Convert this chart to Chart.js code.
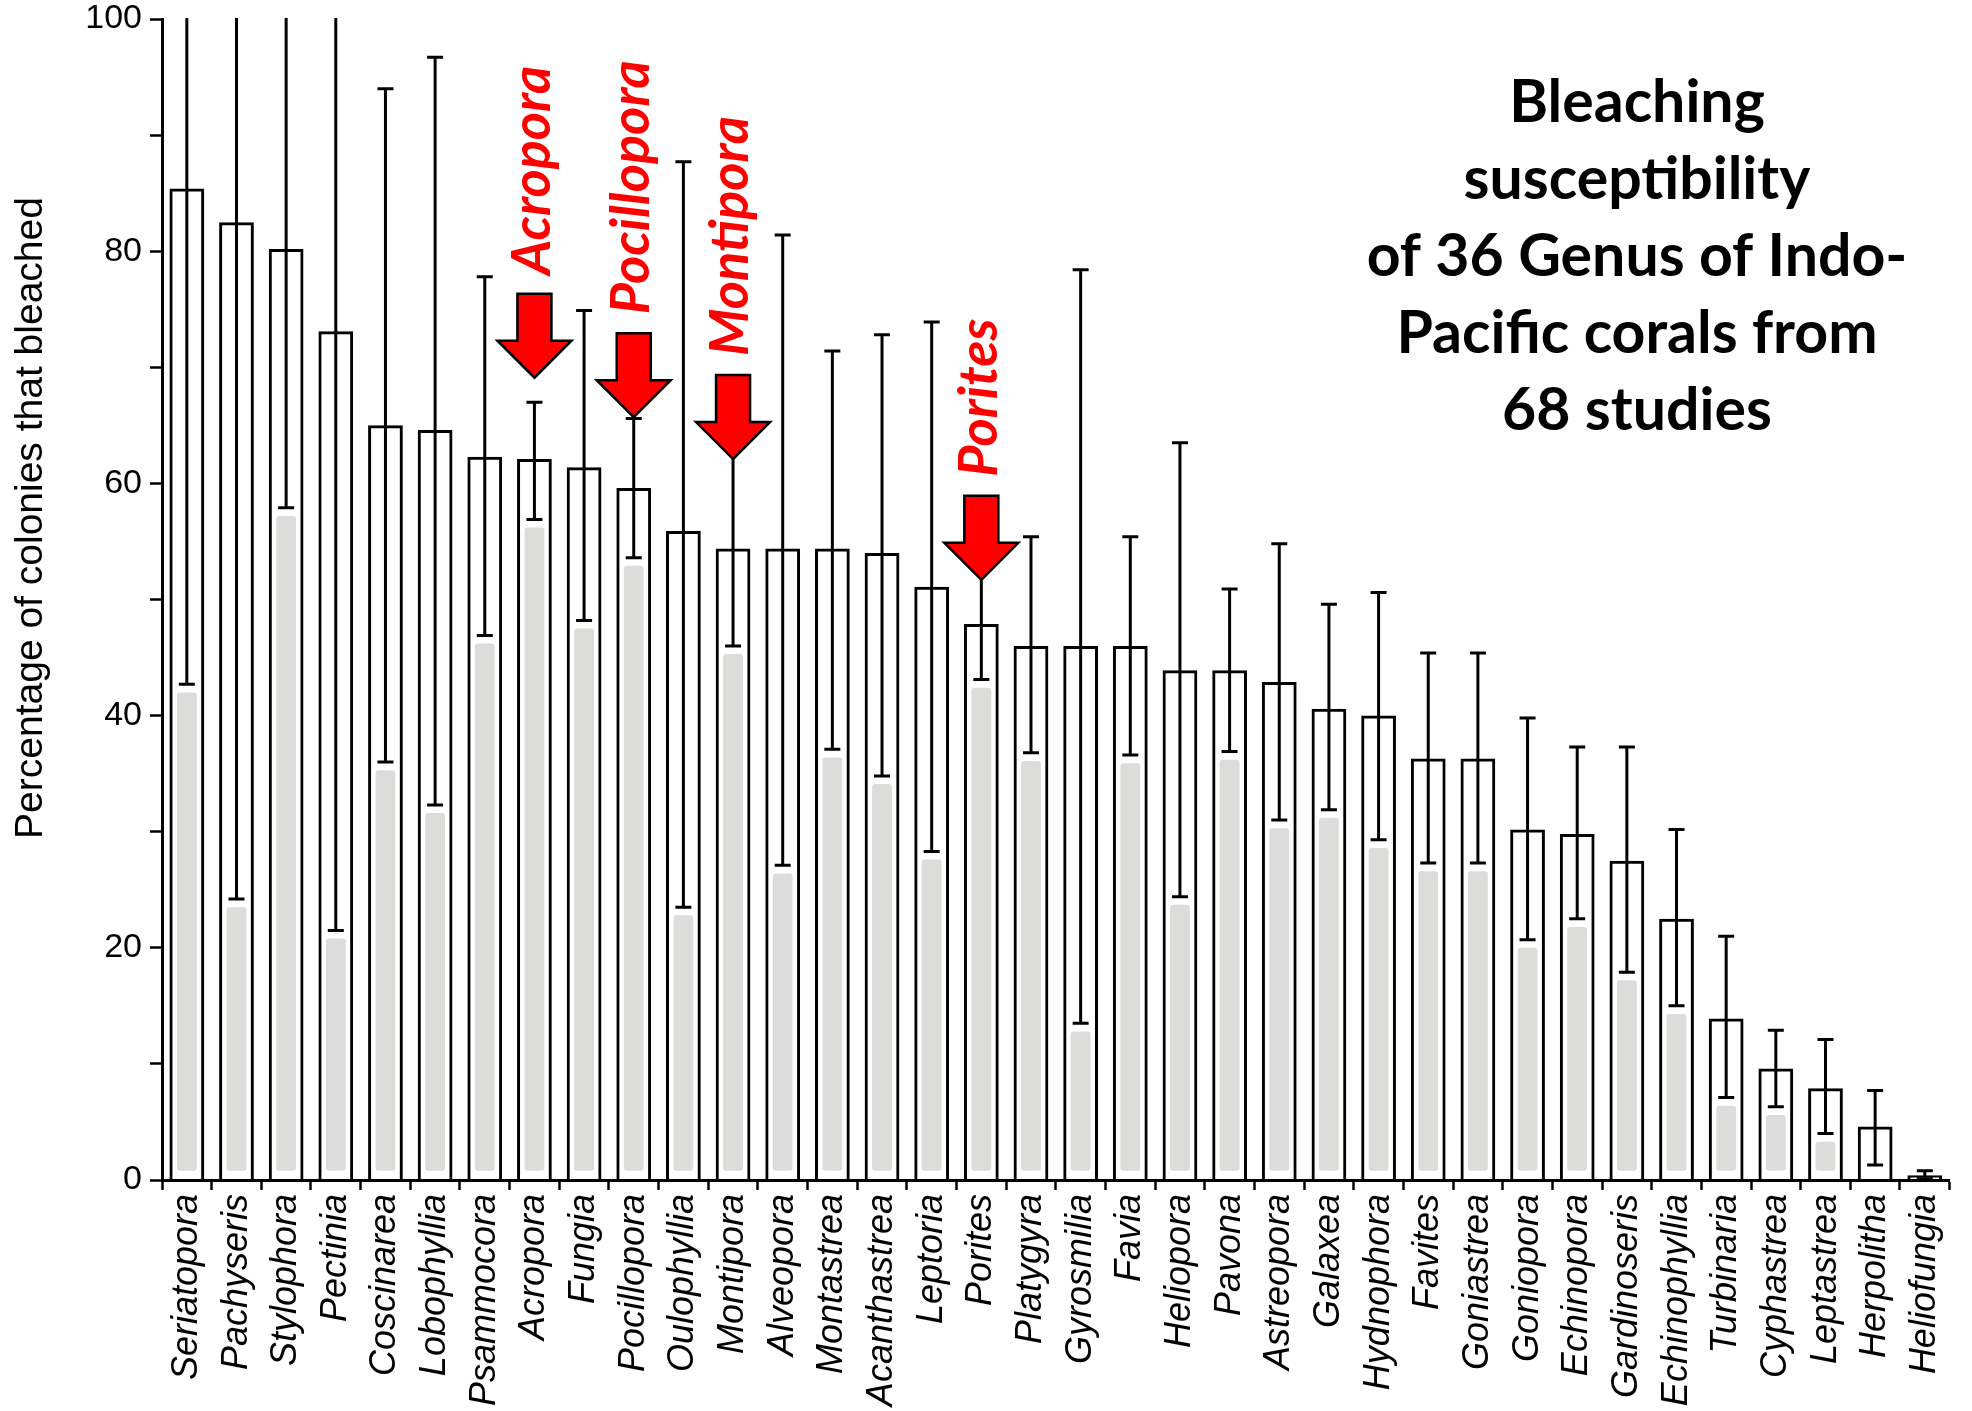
<!DOCTYPE html>
<html>
<head>
<meta charset="utf-8">
<script src="https://cdn.jsdelivr.net/npm/chart.js@4.4.0/dist/chart.umd.min.js"></script>
<style>
  html, body { margin: 0; padding: 0; background: #fff; }
  #wrap { width: 1972px; height: 1411px; position: relative; }
</style>
</head>
<body>
<div id="wrap"><canvas id="Chart"></canvas></div>
<script>
// data
const genus = ['Seriatopora', 'Pachyseris', 'Stylophora', 'Pectinia', 'Coscinarea', 'Lobophyllia',
  'Psammocora', 'Acropora', 'Fungia', 'Pocillopora', 'Oulophyllia', 'Montipora', 'Alveopora',
  'Montastrea', 'Acanthastrea', 'Leptoria', 'Porites', 'Platygyra', 'Gyrosmilia', 'Favia',
  'Heliopora', 'Pavona', 'Astreopora', 'Galaxea', 'Hydnophora', 'Favites', 'Goniastrea',
  'Goniopora', 'Echinopora', 'Gardinoseris', 'Echinophyllia', 'Turbinaria', 'Cyphastrea',
  'Leptastrea', 'Herpolitha', 'Heliofungia'];

const bleached = [85.4, 82.5, 80.2, 73.1, 65.0, 64.6, 62.3, 62.1, 61.4, 59.6, 55.9, 54.4,
  54.4, 54.4, 54.0, 51.1, 47.9, 46.0, 46.0, 46.0, 43.9, 43.9, 42.9, 40.6, 40.0, 36.3, 36.3,
  30.2, 29.8, 27.5, 22.5, 13.9, 9.6, 7.9, 4.6, 0.4];

const upperErr = [128.1, 140.8, 102.5, 124.7, 94.0, 96.7, 77.8, 67.0, 74.9, 65.6, 87.7, 63.0,
  81.4, 71.4, 72.8, 73.9, 52.5, 55.4, 78.4, 55.4, 63.5, 50.9, 54.8, 49.6, 50.6, 45.4, 45.4,
  39.8, 37.3, 37.3, 30.2, 21.0, 12.9, 12.1, 7.7, 0.8];

const lowerErr = [42.7, 24.2, 57.9, 21.5, 36.0, 32.3, 46.9, 56.9, 48.2, 53.6, 23.5, 46.0,
  27.1, 37.1, 34.8, 28.3, 43.1, 36.8, 13.5, 36.6, 24.4, 36.9, 31.0, 31.9, 29.3, 27.3, 27.3,
  20.7, 22.5, 17.9, 15.0, 7.1, 6.3, 4.0, 1.3, 0.1];

// light grey fill seen inside each bar
const greyFill = [42.0, 23.5, 57.2, 20.8, 35.3, 31.6, 46.2, 56.2, 47.5, 52.9, 22.8, 45.3,
  26.4, 36.4, 34.1, 27.6, 42.4, 36.1, 12.8, 35.9, 23.7, 36.2, 30.3, 31.2, 28.6, 26.6, 26.6,
  20.0, 21.8, 17.2, 14.3, 6.4, 5.6, 3.3, 0.8, 0.8];

const yTicks = [0, 20, 40, 60, 80, 100];

const highlighted = ['Acropora', 'Pocillopora', 'Montipora', 'Porites'];
const arrowTip = [69.1, 65.7, 62.1, 51.7];

const titleLines = ['Bleaching', 'susceptibility', 'of 36 Genus of Indo-', 'Pacific corals from', '68 studies'];
const yTitle = 'Percentage of colonies that bleached';

// error bars with caps
const errorBars = {
  id: 'errorBars',
  afterDatasetsDraw(chart) {
    const { ctx, chartArea, scales: { x, y } } = chart;
    ctx.save();
    ctx.beginPath();
    ctx.rect(chartArea.left, chartArea.top - 1, chartArea.right - chartArea.left, chartArea.bottom - chartArea.top + 1);
    ctx.clip();
    ctx.strokeStyle = '#000';
    ctx.lineWidth = 3;
    genus.forEach((g, i) => {
      const px = x.getPixelForValue(i);
      const top = y.getPixelForValue(upperErr[i]);
      const bot = y.getPixelForValue(lowerErr[i]);
      ctx.beginPath();
      ctx.moveTo(px, bot);
      ctx.lineTo(px, top);
      ctx.moveTo(px - 8, top);
      ctx.lineTo(px + 8, top);
      ctx.moveTo(px - 8, bot);
      ctx.lineTo(px + 8, bot);
      ctx.stroke();
    });
    ctx.restore();
  }
};

// red arrows + labels, title block, y title
const annotations = {
  id: 'annotations',
  afterDraw(chart) {
    const { ctx, scales: { x, y } } = chart;
    ctx.save();
    highlighted.forEach((name, k) => {
      const px = x.getPixelForValue(genus.indexOf(name));
      const tip = y.getPixelForValue(arrowTip[k]);
      ctx.beginPath();
      ctx.moveTo(px, tip);
      ctx.lineTo(px + 37, tip - 37);
      ctx.lineTo(px + 17, tip - 37);
      ctx.lineTo(px + 17, tip - 84);
      ctx.lineTo(px - 17, tip - 84);
      ctx.lineTo(px - 17, tip - 37);
      ctx.lineTo(px - 37, tip - 37);
      ctx.closePath();
      ctx.fillStyle = '#ff0000';
      ctx.fill();
      ctx.lineWidth = 2.5;
      ctx.strokeStyle = '#000';
      ctx.stroke();

      ctx.save();
      ctx.translate(px - 2, tip - 103);
      ctx.rotate(-Math.PI / 2);
      ctx.font = 'italic bold 54px Lato';
      ctx.fillStyle = '#ff0000';
      ctx.textAlign = 'left';
      ctx.textBaseline = 'middle';
      ctx.fillText(name, 0, 0);
      ctx.restore();
    });

    ctx.fillStyle = '#000';
    ctx.font = 'bold 59px Lato';
    ctx.textAlign = 'center';
    ctx.textBaseline = 'middle';
    titleLines.forEach((line, i) => {
      ctx.fillText(line, 1637, 103 + i * 77);
    });

    ctx.save();
    ctx.translate(31, 518);
    ctx.rotate(-Math.PI / 2);
    ctx.font = '39px "Liberation Sans"';
    ctx.fillText(yTitle, 0, 0);
    ctx.restore();
    ctx.restore();
  }
};

const data = {
  labels: genus,
  datasets: [{
    label: 'bleached',
    data: bleached,
    backgroundColor: 'rgba(255, 255, 255, 0)',
    borderColor: '#000',
    borderWidth: 3,
    barPercentage: 0.7,
    categoryPercentage: 1,
    grouped: false,
    order: 1
  }, {
    label: 'fill',
    data: greyFill,
    base: 0.8,
    backgroundColor: '#dcdcda',
    borderWidth: 0,
    borderRadius: 3,
    borderSkipped: false,
    barPercentage: 0.4,
    categoryPercentage: 1,
    grouped: false,
    order: 2
  }]
};

const config = {
  type: 'bar',
  data,
  options: {
    responsive: true,
    maintainAspectRatio: false,
    animation: false,
    layout: { padding: { top: 19, right: 0, left: 0, bottom: 0 } },
    scales: {
      y: {
        min: 0,
        max: 100,
        afterFit: (scale) => {
          scale.width = 162;
          scale.paddingTop = 0;
          scale.paddingBottom = 0;
        },
        ticks: {
          stepSize: 10,
          autoSkip: false,
          padding: 8,
          color: '#000',
          font: { family: 'Liberation Sans', size: 34 },
          callback: (v) => yTicks.includes(v) ? v : ''
        },
        grid: {
          drawOnChartArea: false,
          tickLength: 12,
          tickWidth: 2.5,
          tickColor: '#000'
        },
        border: { color: '#000', width: 3 }
      },
      x: {
        afterFit: (scale) => { scale.height = 231; },
        ticks: {
          autoSkip: false,
          minRotation: 90,
          maxRotation: 90,
          padding: 4,
          color: '#000',
          font: { family: 'Liberation Sans', style: 'italic', size: 36 }
        },
        grid: {
          offset: true,
          drawOnChartArea: false,
          tickLength: 10,
          tickWidth: 2.5,
          tickColor: '#000'
        },
        border: { color: '#000', width: 3 }
      }
    },
    plugins: {
      legend: { display: false },
      tooltip: { enabled: false }
    }
  },
  plugins: [errorBars, annotations]
};

const myChart = new Chart(document.getElementById('Chart'), config);
</script>
</body>
</html>
